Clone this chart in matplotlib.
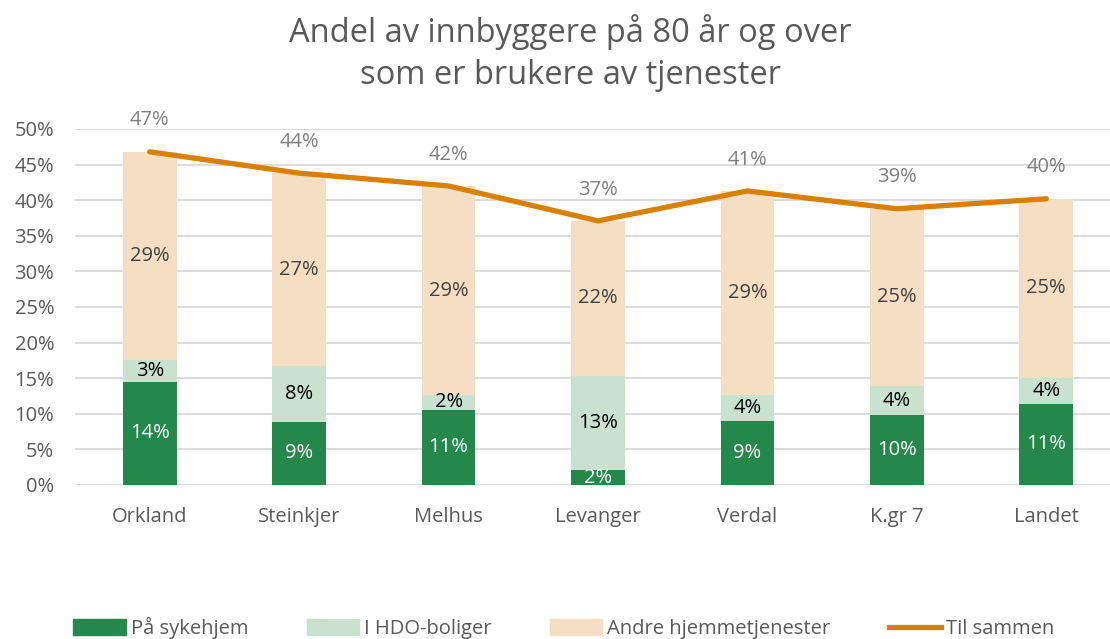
import matplotlib
matplotlib.use('Agg')
import matplotlib.pyplot as plt
import numpy as np
from matplotlib.patches import Patch
from matplotlib.lines import Line2D

plt.rcParams['font.family'] = ['Open Sans', 'DejaVu Sans']

kommuner = ['Orkland', 'Steinkjer', 'Melhus', 'Levanger', 'Verdal', 'K.gr 7', 'Landet']
sykehjem = [14.5, 8.9, 10.6, 2.1, 9.0, 9.8, 11.4]
hdo_boliger = [3.1, 7.8, 2.0, 13.2, 3.6, 4.1, 3.6]
andre_hjemmetj = [29.2, 27.1, 29.4, 21.8, 28.7, 24.9, 25.2]
til_sammen = [46.8, 43.8, 42.0, 37.1, 41.3, 38.8, 40.2]

c_syk = '#23884A'
c_hdo = '#C9E1CF'
c_andre = '#F6DEC3'
c_total = '#D98000'
c_text = '#595959'

W, H = 1110, 639
fig = plt.figure(figsize=(W / 100, H / 100), dpi=100)
ax = fig.add_axes([75 / W, 1 - 485 / H, 1046 / W, 356 / H])

x = np.arange(len(kommuner))
bw = 0.36
syk = np.array(sykehjem)
hdo = np.array(hdo_boliger)
andre = np.array(andre_hjemmetj)

ax.bar(x, syk, bw, color=c_syk, zorder=2)
ax.bar(x, hdo, bw, bottom=syk, color=c_hdo, zorder=2)
ax.bar(x, andre, bw, bottom=syk + hdo, color=c_andre, zorder=2)
ax.plot(x, til_sammen, color=c_total, lw=3.8, solid_capstyle='round', zorder=3)

fs = 14.5
for i in range(len(x)):
    ax.text(x[i], syk[i] / 2, f'{syk[i]:.0f}%', ha='center', va='center',
            color='white', fontsize=fs, zorder=4)
    ax.text(x[i], syk[i] + hdo[i] / 2, f'{hdo[i]:.0f}%', ha='center', va='center',
            color='black', fontsize=fs, zorder=4)
    ax.text(x[i], syk[i] + hdo[i] + andre[i] / 2, f'{andre[i]:.0f}%', ha='center',
            va='center', color='#404040', fontsize=fs, zorder=4)
    ax.text(x[i], til_sammen[i] + 4.4, f'{til_sammen[i]:.0f}%', ha='center',
            va='center', color='#7F7F7F', fontsize=fs, zorder=4, clip_on=False)

ax.set_xlim(-0.5, len(x) - 0.5)
ax.set_ylim(0, 50)
ax.set_yticks(np.arange(0, 51, 5))
ax.set_yticklabels([f'{v}%' for v in range(0, 51, 5)])
ax.set_xticks(x)
ax.set_xticklabels(kommuner)
ax.grid(axis='y', color='#D9D9D9', lw=1.3, zorder=0)
for s in ax.spines.values():
    s.set_visible(False)
ax.tick_params(length=0, labelsize=fs, colors=c_text)
ax.tick_params(axis='x', pad=16)
ax.tick_params(axis='y', pad=15)

fig.text(570 / W, 1 - 53 / H, 'Andel av innbyggere på 80 år og over\nsom er brukere av tjenester',
         ha='center', va='center', fontsize=23.5, color=c_text, linespacing=1.35)

handles = [Patch(color=c_syk), Patch(color=c_hdo), Patch(color=c_andre),
           Line2D([], [], color=c_total, lw=3.8)]
labels = ['På sykehjem', 'I HDO-boliger', 'Andre hjemmetjenester', 'Til sammen']
fig.legend(handles, labels, loc='center', bbox_to_anchor=(564 / W, 1 - 628 / H), ncol=4,
           frameon=False, fontsize=fs, labelcolor=c_text, columnspacing=2.9,
           handlelength=2.6, handleheight=0.8, handletextpad=0.25)

fig.savefig('out.png', dpi=100)
